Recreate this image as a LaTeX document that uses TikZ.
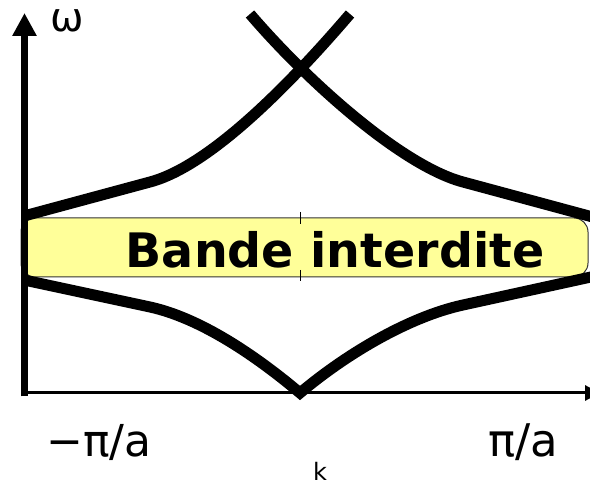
\documentclass[tikz,border=0pt]{standalone}
\usepackage{fontspec}
\setmainfont{DejaVu Sans}
\usetikzlibrary{arrows.meta}
\definecolor{bandyellow}{HTML}{FFFF99}
\begin{document}
\begin{tikzpicture}[x=1pt,y=-1pt,
  curve/.style={line width=11pt, line join=miter},
  lbl/.style={inner sep=0pt, anchor=base west},
  tick/.style={line width=1pt, draw=black},
]
\clip (0,0) rectangle (590,486);
\fill[white] (0,0) rectangle (590,486);
% forbidden band
\draw[fill=bandyellow, draw=black!80, line width=1pt, rounded corners=14pt] (21,218) rectangle (588,277);
\draw[tick] (300,212) -- (300,224);
\draw[tick] (300,270) -- (300,281);
\draw[tick] (300,388) -- (300,399);
\node[font=\bfseries\fontsize{47.5}{52}\selectfont, anchor=base, inner sep=0pt] (gap) at (335,268) {Bande interdite};
% dispersion curves
\draw[curve] (24,216) -- (150,182) .. controls (210,166) and (290,84) .. (350,14);
\draw[curve] (600,219) -- (463,182) .. controls (403,166) and (310,84) .. (250,14);
\draw[curve] (24,280) -- (150,307) .. controls (200,318) and (255,355) .. (300,393) .. controls (345,355) and (408,317) .. (463,305) -- (600,275);
% axes
\draw[line width=3pt, -{Triangle[length=15pt,width=15pt]}] (21,393) -- (600,393);
\draw[line width=7pt, -{Triangle[length=23pt,width=23pt]}] (24.5,396.5) -- (24.5,13);
% labels
\node[lbl, font=\fontsize{40}{44}\selectfont] (omega) at (50,32) {ω};
\node[lbl, font=\fontsize{44}{48}\selectfont] (kmin) at (46,457) {−π/a};
\node[lbl, font=\fontsize{45}{49}\selectfont] (kmax) at (488,457) {π/a};
\node[lbl, font=\fontsize{24}{28}\selectfont] (k) at (313,481) {k};
\end{tikzpicture}
\end{document}
